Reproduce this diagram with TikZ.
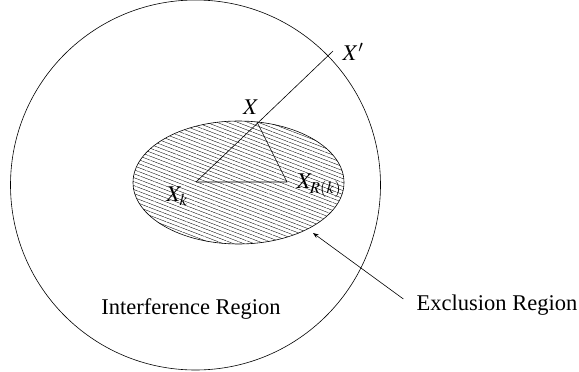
\documentclass[tikz,border=0pt]{standalone}
\usepackage{mathptmx}
\usepackage{fontspec}
\setmainfont{Liberation Serif}
\usetikzlibrary{arrows.meta, positioning, calc, patterns.meta}

\begin{document}
\begin{tikzpicture}[x=1pt, y=-1pt, >=Stealth, line width=0.6pt,
  font=\fontsize{22.5}{27}\selectfont,
  lbl/.style={inner sep=1pt},
  hatch/.style={pattern={Lines[angle=-21, distance=3.7pt, line width=0.35pt]}}]
\useasboundingbox (0,0) rectangle (579,372);
% regions
\draw (195.5,185) circle [radius=185];
\draw[hatch] (238.5,182.5) ellipse [x radius=105.5, y radius=61.5];
% points
\coordinate (Xk) at (196,182);
\coordinate (XR) at (287,182);
\coordinate (X) at (257,122);
\coordinate (Xp) at (333,51);
\draw (Xk) -- (Xp);
\draw (Xk) -- (XR) -- (X);
\node[lbl] (lX) at (251,107) {$X$};
\node[lbl] (lXp) at (353,52) {$X'$};
\node[lbl] (lXk) at (177,196) {$X_k$};
\node[lbl] (lXR) at (319,186) {$X_{R(k)}$};
% region labels
\node[lbl] (inter) at (191,309) {Interference Region};
\node[lbl] (excl) at (497,305) {Exclusion Region};
\coordinate (tip) at (313,233);
\coordinate (tail) at ($(excl.west)+(-12,-6)$);
\draw[->] (tail) -- (tip);
\end{tikzpicture}
\end{document}
